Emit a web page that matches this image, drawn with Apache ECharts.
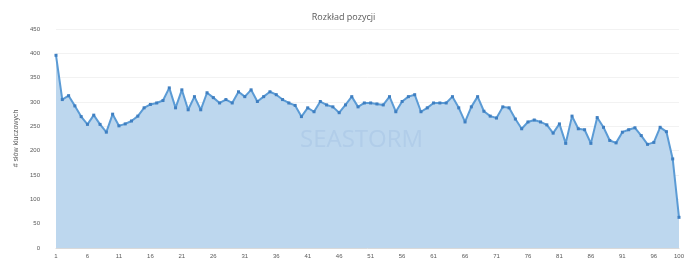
<!DOCTYPE html>
<html>
<head>
<meta charset="utf-8">
<script src="https://cdn.jsdelivr.net/npm/echarts@6/dist/echarts.min.js"></script>
<style>
html,body{margin:0;padding:0;background:#fff;}
#chart{width:687px;height:260px;}
</style>
</head>
<body>
<div id="chart"></div>
<script>
var chartTitle = "Rozkład pozycji";
var yAxisName = "# słów kluczowych";
var positions = [];
for (var p = 1; p <= 100; p++) positions.push(String(p));
var keywordCounts = [
  396, 305, 313, 292, 270, 254, 273, 254, 238, 275,
  251, 255, 261, 271, 288, 295, 298, 303, 329, 288,
  325, 284, 311, 284, 319, 309, 298, 305, 298, 321,
  311, 325, 301, 311, 321, 315, 305, 298, 293, 270,
  288, 280, 301, 294, 290, 278, 294, 311, 290, 298,
  298, 296, 294, 311, 280, 301, 311, 315, 280, 288,
  298, 298, 298, 311, 288, 259, 290, 311, 281, 271,
  267, 290, 288, 265, 245, 259, 263, 259, 253, 236,
  255, 215, 271, 245, 243, 215, 268, 248, 221, 216,
  238, 243, 247, 231, 213, 217, 248, 239, 183, 63
];
var yTicks = { min: 0, max: 450, interval: 50 };

var chart = echarts.init(document.getElementById('chart'));
chart.setOption({
  animation: false,
  backgroundColor: '#ffffff',
  title: {
    text: chartTitle,
    left: 'center',
    top: 8,
    textStyle: { fontSize: 9, fontWeight: 'normal', color: '#595959', fontFamily: 'Open Sans' }
  },
  graphic: [{
    type: 'text',
    left: 300,
    top: 128,
    z: 10,
    silent: true,
    style: { text: 'SEASTORM', fontSize: 24, fontFamily: 'Open Sans', fill: 'rgba(120,160,210,0.18)' }
  }],
  grid: { left: 56, right: 4, top: 29, bottom: 12, containLabel: false },
  xAxis: {
    type: 'category',
    data: positions,
    boundaryGap: false,
    axisLine: { show: true, lineStyle: { color: '#d9d9d9' } },
    axisTick: { show: false },
    axisLabel: {
      fontSize: 6, color: '#595959', margin: 5,
      interval: function (i) { return i % 5 === 0 || i === 99; }
    },
    splitLine: { show: false }
  },
  yAxis: {
    type: 'value',
    min: yTicks.min, max: yTicks.max, interval: yTicks.interval,
    name: yAxisName,
    nameLocation: 'middle',
    nameGap: 36,
    nameTextStyle: { fontSize: 7, color: '#595959' },
    axisLine: { show: false },
    axisTick: { show: false },
    axisLabel: { fontSize: 6, color: '#595959', margin: 16 },
    splitLine: { show: true, lineStyle: { color: '#f2f2f2' } }
  },
  series: [{
    type: 'line',
    data: keywordCounts,
    symbol: 'rect',
    symbolSize: 3,
    itemStyle: { color: '#3f7fc1' },
    lineStyle: { color: '#5b9bd5', width: 2 },
    areaStyle: { color: '#bdd7ee', opacity: 1 },
    z: 3
  }]
});
</script>
</body>
</html>
